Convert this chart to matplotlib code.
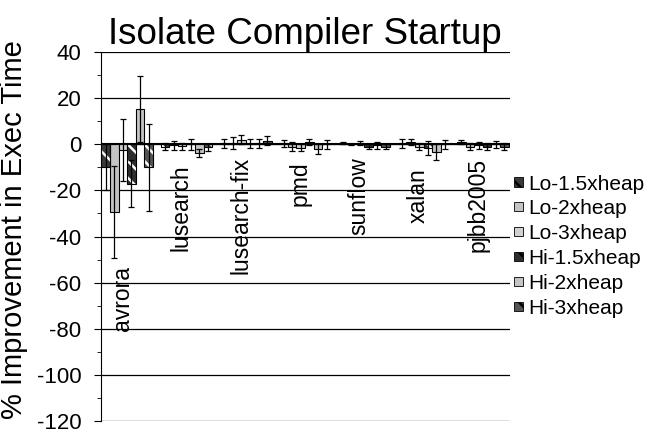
"""Isolate compiler startup: improvement in execution time per benchmark."""

import matplotlib

matplotlib.use("Agg", force=True)

import matplotlib.pyplot as plt
import numpy as np
from matplotlib.patches import Patch
from matplotlib.ticker import MultipleLocator

plt.rcParams["font.family"] = ["Liberation Sans", "DejaVu Sans"]
plt.rcParams["axes.unicode_minus"] = False
plt.rcParams["hatch.linewidth"] = 1.8

benchmarks = ["avrora", "lusearch", "lusearch-fix", "pmd", "sunflow", "xalan", "pjbb2005"]
series = ["Lo-1.5xheap", "Lo-2xheap", "Lo-3xheap", "Hi-1.5xheap", "Hi-2xheap", "Hi-3xheap"]

# rows: series, columns: benchmarks
values = [
    [-10.0, -1.0, 0.5, 0.5, 0.5, 0.5, 1.0],
    [-29.5, -0.5, 0.5, -1.0, 0.0, 1.0, -1.0],
    [-2.5, -0.8, 2.0, -1.5, 0.5, -1.0, -0.5],
    [-17.0, 0.0, 0.3, 1.0, -1.0, -1.5, -1.0],
    [15.3, -3.6, 0.5, -2.0, -0.5, -3.5, 0.0],
    [-10.0, -1.2, 1.5, 0.0, -1.0, 0.0, -1.0],
]
errors = [
    [10.0, 1.5, 2.0, 1.5, 0.5, 2.0, 1.0],
    [20.0, 2.0, 2.5, 2.0, 0.3, 1.5, 1.5],
    [13.5, 1.5, 2.0, 1.5, 1.0, 1.5, 1.5],
    [10.0, 2.5, 2.0, 1.5, 1.0, 3.0, 1.5],
    [14.5, 1.7, 2.0, 2.0, 1.5, 3.5, 1.5],
    [19.0, 1.5, 2.0, 2.0, 1.0, 2.0, 1.5],
]

styles = {
    "Lo-1.5xheap": ("#3a3a3a", "\\\\"),
    "Lo-2xheap": ("#c4c4c4", None),
    "Lo-3xheap": ("#d0d0d0", None),
    "Hi-1.5xheap": ("#2e2e2e", "\\\\"),
    "Hi-2xheap": ("#c4c4c4", None),
    "Hi-3xheap": ("#555555", "\\\\"),
}

fig = plt.figure(figsize=(6.63, 4.34), dpi=100)
ax = fig.add_axes([0.152, 0.03, 0.617, 0.85])

x = np.arange(len(benchmarks))
width = 0.145
for i, name in enumerate(series):
    face, hatch = styles[name]
    pos = x - 0.44 + width * (i + 0.5)
    if hatch:
        ax.bar(pos, values[i], width, color=face, edgecolor="white",
               hatch=hatch, linewidth=0, zorder=2)
        ax.bar(pos, values[i], width, facecolor="none", edgecolor="black",
               linewidth=0.8, zorder=2.5)
    else:
        ax.bar(pos, values[i], width, color=face, edgecolor="black",
               linewidth=0.8, zorder=2)
    ax.errorbar(pos, values[i], yerr=errors[i], fmt="none", ecolor="black",
                elinewidth=0.9, capsize=2.5, capthick=0.9, zorder=3)

vals = np.array(values)
errs = np.array(errors)
low = (vals - errs).min(axis=0)
for j, name in enumerate(benchmarks):
    ax.text(x[j] - 0.09, min(low[j], 0) - 3.4, name, rotation=90,
            ha="center", va="top", fontsize=16.5, zorder=4)

ax.axhline(0, color="black", linewidth=1.5, zorder=3.5)
ax.set_ylim(-120, 40)
ax.set_xlim(-0.45, len(benchmarks) - 0.55)
ax.yaxis.set_major_locator(MultipleLocator(20))
ax.yaxis.set_minor_locator(MultipleLocator(10))
ax.yaxis.grid(True, which="major", color="black", linewidth=0.9)
ax.set_axisbelow(True)
ax.tick_params(axis="y", which="major", direction="out", length=5,
               labelsize=16, pad=9)
ax.tick_params(axis="y", which="minor", direction="out", length=3)
ax.set_xticks([])
for side in ["top", "right", "bottom"]:
    ax.spines[side].set_visible(False)
ax.set_ylabel("% Improvement in Exec Time", fontsize=21)
ax.yaxis.set_label_coords(-0.178, 0.52)
ax.set_title("Isolate Compiler Startup", fontsize=26.5, pad=5)

handles = []
for name in series:
    face, hatch = styles[name]
    handles.append(Patch(facecolor=face, edgecolor="black", hatch=hatch,
                         linewidth=0.6, label=name))
ax.legend(handles=handles, loc="center left", bbox_to_anchor=(1.0, 0.474),
          frameon=False, fontsize=15, handlelength=0.45, handleheight=0.3,
          handletextpad=0.25, labelspacing=0.28, borderaxespad=0.0,
          borderpad=0.2)

fig.savefig("out.png", dpi=100)
